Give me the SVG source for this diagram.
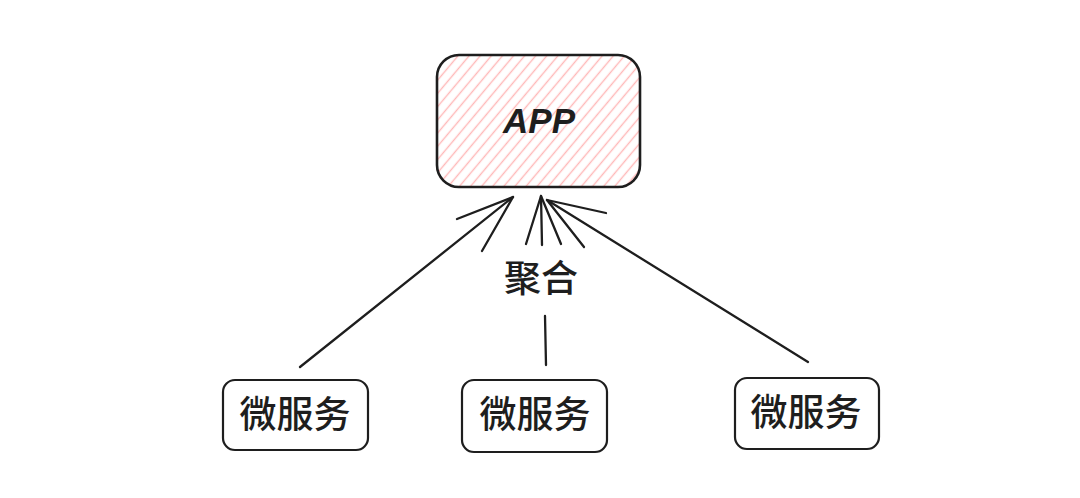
<svg xmlns="http://www.w3.org/2000/svg" width="1080" height="498" viewBox="0 0 1080 498">
  <defs>
    <pattern id="hachure" width="8.5" height="8.5" patternUnits="userSpaceOnUse" patternTransform="rotate(40)">
      <line x1="4.25" y1="0" x2="4.25" y2="8.5" stroke="#ffb8b8" stroke-width="1.4"/>
    </pattern>
  </defs>
  <style>
    .box { fill: #ffffff; stroke: #1e1e1e; stroke-width: 2.2; }
    .app { fill: url(#hachure); stroke: #1e1e1e; stroke-width: 2.6; }
    .conn { fill: none; stroke: #1e1e1e; stroke-width: 2.3; stroke-linecap: round; stroke-linejoin: round; }
    .cjk { font-family: "Noto Sans CJK SC", "Noto Sans", sans-serif; font-size: 37px; font-weight: 500; fill: #1e1e1e; text-anchor: middle; }
    .apptext { font-family: "Liberation Sans", "DejaVu Sans", sans-serif; font-size: 35px; font-weight: bold; font-style: italic; fill: #1e1e1e; text-anchor: middle; }
  </style>
  <rect width="1080" height="498" fill="#ffffff"/>

  <g id="connectors">
    <!-- left arrow -->
    <path class="conn" d="M300,367 L513,197"/>
    <path class="conn" d="M457,219 L513,197 L482,251"/>
    <!-- middle arrow -->
    <path class="conn" d="M545,316 L546,365"/>
    <path class="conn" d="M542,245 L541,196"/>
    <path class="conn" d="M526,244 L541,196 L561,244"/>
    <!-- right arrow -->
    <path class="conn" d="M808,362 L547,200"/>
    <path class="conn" d="M606,213 L547,200 L584,247"/>
  </g>

  <g id="label-aggregate">
    <text class="cjk" x="541" y="292" font-size="36">聚合</text>
  </g>

  <g id="node-app">
    <rect class="app" x="437" y="55" width="203" height="132" rx="22" ry="22"/>
    <text class="apptext" x="539" y="133">APP</text>
  </g>

  <g id="node-ms-left">
    <rect class="box" x="223" y="380" width="145" height="70" rx="12" ry="12"/>
    <text class="cjk" x="295" y="428">微服务</text>
  </g>

  <g id="node-ms-middle">
    <rect class="box" x="462" y="380" width="145" height="72" rx="12" ry="12"/>
    <text class="cjk" x="535" y="428">微服务</text>
  </g>

  <g id="node-ms-right">
    <rect class="box" x="735" y="378" width="144" height="71" rx="12" ry="12"/>
    <text class="cjk" x="806" y="426">微服务</text>
  </g>
</svg>
